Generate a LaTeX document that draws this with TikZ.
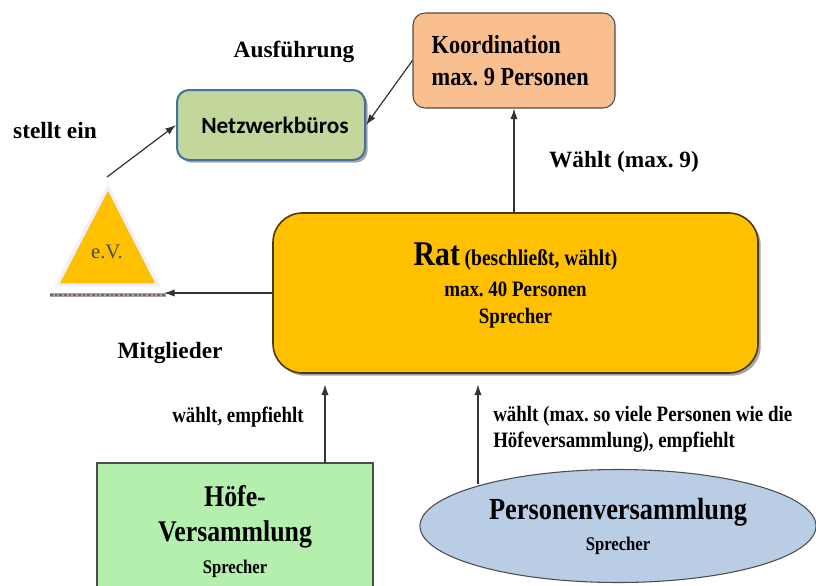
\documentclass[tikz,border=0pt]{standalone}
\usepackage{fontspec}
\setmainfont{Liberation Serif}
\newfontfamily\condserif[FakeStretch=0.86]{Liberation Serif}
\newfontfamily\boxsans{Carlito}
\usetikzlibrary{arrows.meta,shadows,shapes.geometric}

\definecolor{koordfill}{HTML}{F9BF8F}
\definecolor{netzfill}{HTML}{C3D69B}
\definecolor{netzdraw}{HTML}{41719C}
\definecolor{ratfill}{HTML}{FFC000}
\definecolor{ratdraw}{HTML}{4A3A10}
\definecolor{hoefefill}{HTML}{B4EFAE}
\definecolor{pvfill}{HTML}{B9CDE5}

\begin{document}
\frenchspacing
\begin{tikzpicture}[x=0.75pt, y=-0.75pt,
        box/.style={draw=black!70, line width=0.8pt, align=center, inner sep=0pt, font=\condserif\bfseries},
        lab/.style={font=\bfseries\fontsize{17.5}{21}\selectfont, inner sep=0pt},
        smalllab/.style={font=\condserif\bfseries\fontsize{16.5}{19.5}\selectfont, inner sep=0pt, align=left},
        shade/.style={drop shadow={shadow xshift=2pt, shadow yshift=-2pt, fill=black, opacity=0.35}},
        conn/.style={->, line width=0.9pt, black!80},
        >={Latex[length=8pt,width=5.5pt]}
    ]
        \clip (0,0) rectangle (816,585);
        \fill[white] (0,0) rectangle (816,585);

        % Boxes
        \node[box, fill=koordfill, rounded corners=9pt, minimum width=151.5pt, minimum height=71.25pt,
              text width=123.5pt, align=left, font=\condserif\bfseries\fontsize{19.5}{24}\selectfont] (koord) at (514,60.5)
              {\mbox{Koordination}\\\mbox{max.\hspace{4.2pt}9\hspace{4.2pt}Personen}};
        \node[box, fill=netzfill, draw=netzdraw, line width=1.5pt, rounded corners=9pt, shade,
              minimum width=141pt, minimum height=52.5pt, font=\boxsans\bfseries\fontsize{17.5}{20}\selectfont] (netz) at (271,125)
              {\hspace*{6pt}Netzwerkbüros};
        \node[box, fill=ratfill, draw=ratdraw, line width=1.2pt, rounded corners=22pt, shade,
              minimum width=363.75pt, minimum height=120pt, font=\condserif\bfseries\fontsize{16.5}{20.25}\selectfont] (rat) at (515.5,293)
              {{\fontsize{26}{26}\selectfont Rat} {\fontsize{17}{20.25}\selectfont (beschließt, wählt)}\\[3pt]
               max. 40 Personen\\Sprecher\\[-6pt]};
        \node[box, fill=hoefefill, minimum width=207pt, minimum height=102.75pt,
              font=\condserif\bfseries\fontsize{22.5}{26.25}\selectfont] (hoefe) at (235,531.5)
              {Höfe-\\Versammlung\\[-2pt]{\fontsize{14.5}{17}\selectfont Sprecher}};
        \node[box, ellipse, fill=pvfill, minimum width=297pt, minimum height=84.75pt,
              font=\condserif\bfseries\fontsize{23}{23.25}\selectfont] (pv) at (618,526)
              {Personenversammlung\\{\fontsize{14.5}{17}\selectfont Sprecher}};

        % e.V. triangle
        \draw[draw=blue!6, line width=2.5pt, fill=ratfill] (108,187) -- (57,285) -- (158,285) -- cycle;
        \draw[draw=gray!70, line width=2.6pt] (50,295) -- (166,295);
        \draw[draw=violet!30!gray, line width=0.8pt, dash pattern=on 2pt off 1.5pt] (50,295) -- (166,295);
        \node[font=\fontsize{15.5}{15.5}\selectfont, text=black!70] (ev) at (107,252) {e.V.};
        \coordinate (evtop) at (107,177);
        \coordinate (evbase) at (164,293);

        % Labels
        \node[lab] (ausf) at (294,52) {Ausführung};
        \node[lab] (stellt) at (55,131) {stellt ein};
        \node[lab] (waehlt) at (624,162) {Wählt (max. 9)};
        \node[lab] (mitgl) at (170,353) {Mitglieder};
        \node[smalllab] (empf) at (238,417) {wählt, empfiehlt};
        \node[smalllab, anchor=west] (pvlab) at (493,429)
              {wählt (max. so viele Personen wie die\\Höfeversammlung), empfiehlt};

        % Connectors
        \coordinate (hv) at (325,463);
        \coordinate (pvtop) at (478,484);
        \draw[conn] (koord.west) -- (netz.east);
        \draw[conn] (evtop) -- (netz.west);
        \draw[conn] (rat.north -| koord.south) -- (koord.south);
        \draw[conn] (rat.west) -- (evbase);
        \draw[conn] (hv) -- ([yshift=-8]hv |- rat.south);
        \draw[conn] (pvtop) -- ([yshift=-8]pvtop |- rat.south);
    \end{tikzpicture}
\end{document}
